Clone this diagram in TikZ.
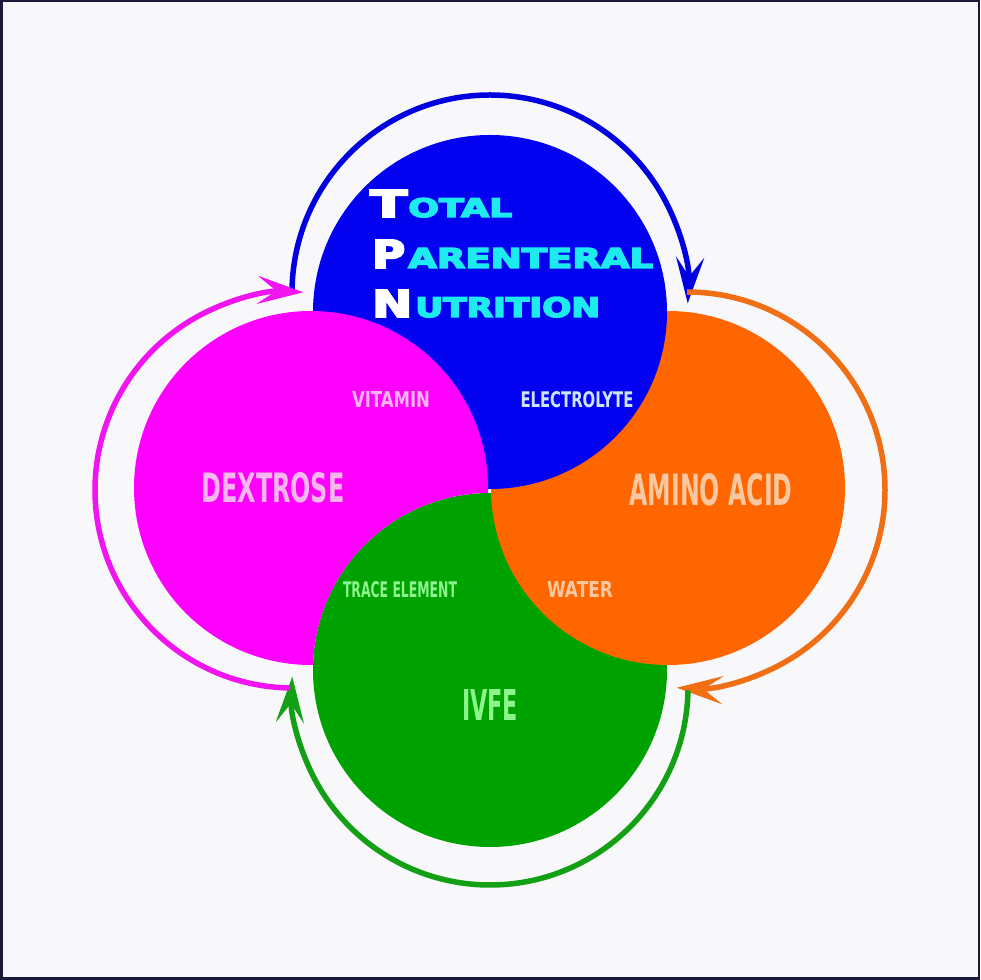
\documentclass[tikz,border=0pt]{standalone}
\usepackage{fontspec}
\setmainfont{DejaVu Sans}
\newfontfamily\titlefont{DejaVu Sans}[BoldFeatures={FakeBold=5}]
\usetikzlibrary{arrows.meta}
\definecolor{bg}{RGB}{248,248,250}
\definecolor{frame}{RGB}{28,26,60}
\definecolor{cblue}{RGB}{2,2,240}
\definecolor{cmag}{RGB}{255,0,255}
\definecolor{corange}{RGB}{255,102,0}
\definecolor{cgreen}{RGB}{0,162,0}
\definecolor{ablue}{RGB}{0,0,225}
\definecolor{amag}{RGB}{240,20,240}
\definecolor{aorange}{RGB}{240,110,20}
\definecolor{agreen}{RGB}{20,160,20}
\definecolor{tcyan}{RGB}{30,235,240}
\definecolor{tpink}{RGB}{248,182,240}
\definecolor{torange}{RGB}{250,200,160}
\definecolor{tgreen}{RGB}{140,245,140}
\definecolor{tblue}{RGB}{205,228,255}
\begin{document}
\begin{tikzpicture}[x=1pt,y=1pt,
  lbl/.style={inner sep=0pt, font=\bfseries},
  ttl/.style={inner sep=0pt, font=\titlefont\bfseries},
  ring/.style={line width=5.5pt, -{Stealth[length=46pt,width=28pt,inset=19pt]}}]
\useasboundingbox (0,0) rectangle (980,980);
\fill[bg] (0,0) rectangle (980,980);
\draw[frame, line width=2.5pt] (1.25,1.25) rectangle (978.75,978.75);
% circle centres
\coordinate (cB) at (490,668);
\coordinate (cM) at (311,492);
\coordinate (cO) at (668,492);
\coordinate (cG) at (490,310);
% circles, cyclic overlap
\fill[cgreen] (cG) circle[radius=177];
\fill[corange] (cO) circle[radius=177];
\fill[cblue] (cB) circle[radius=177];
% magenta circle minus the lens shared with green
\fill[cmag] (cM) ++(-1.6:177) arc[start angle=-1.6, end angle=270.66, radius=177]
  arc[start angle=178.4, end angle=90.66, radius=177] -- cycle;
% arcs
\coordinate (aB) at (490,687);
\coordinate (aO) at (687,490);
\coordinate (aG) at (490,293);
\coordinate (aM) at (293,490);
\draw[ring, ablue] (aB) ++(180:198) arc[start angle=180, end angle=-3, radius=198];
\draw[ring, aorange] (aO) ++(90:198) arc[start angle=90, end angle=-93, radius=198];
\draw[ring, agreen] (aG) ++(-1:198) arc[start angle=-1, end angle=-183, radius=198];
\draw[ring, amag] (aM) ++(-91:198) arc[start angle=-91, end angle=-273, radius=198];
% title
\node[ttl, anchor=base west] (t1) at (370,763)
  {\resizebox{37pt}{27pt}{\color{white}T}\hspace{1pt}\resizebox{104pt}{19pt}{\color{tcyan}OTAL}};
\node[ttl, anchor=base west] (t2) at (372,712)
  {\resizebox{33pt}{28pt}{\color{white}P}\hspace{3pt}\resizebox{245pt}{20pt}{\color{tcyan}ARENTERAL}};
\node[ttl, anchor=base west] (t3) at (372,663)
  {\resizebox{40pt}{27pt}{\color{white}N}\hspace{3pt}\resizebox{185pt}{20pt}{\color{tcyan}UTRITION}};
% labels
\node[lbl, text=tpink] (dex) at (273,492) {\resizebox{143pt}{30pt}{DEXTROSE}};
\node[lbl, text=torange] (amino) at (711,490) {\resizebox{163pt}{32pt}{AMINO ACID}};
\node[lbl, text=tgreen] (ivfe) at (490,275) {\resizebox{56pt}{31pt}{IVFE}};
\node[lbl, text=tpink] (vit) at (391,580) {\resizebox{78pt}{16pt}{VITAMIN}};
\node[lbl, text=tblue] (elec) at (577,580) {\resizebox{113pt}{16pt}{ELECTROLYTE}};
\node[lbl, text=tgreen] (trace) at (400,390) {\resizebox{114pt}{16pt}{TRACE ELEMENT}};
\node[lbl, text=torange] (water) at (580,390) {\resizebox{66pt}{16pt}{WATER}};
\end{tikzpicture}
\end{document}
